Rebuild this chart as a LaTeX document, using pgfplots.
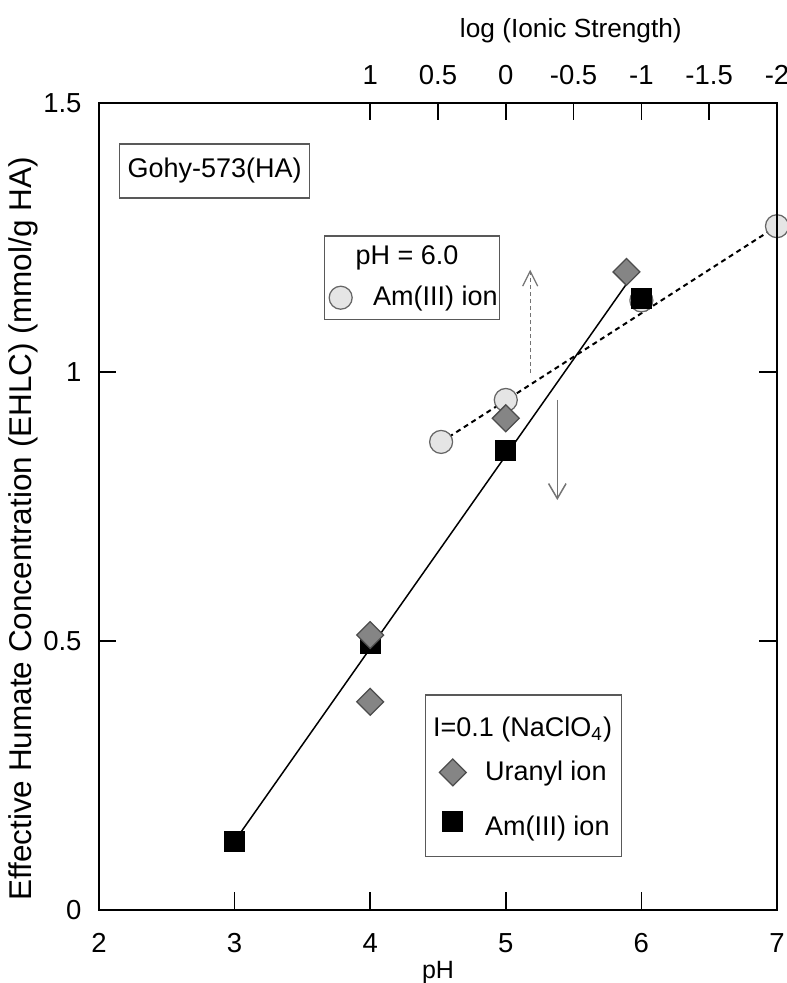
\documentclass[border=0pt]{standalone}
\usepackage{fontspec}
\setmainfont{Liberation Sans}
\usepackage{pgfplots}
\pgfplotsset{compat=1.18}
\usetikzlibrary{arrows.meta}

\definecolor{markgray}{gray}{0.52}
\definecolor{markedge}{gray}{0.30}
\definecolor{circfill}{gray}{0.90}
\definecolor{circedge}{gray}{0.40}
\definecolor{boxedge}{gray}{0.35}
\definecolor{arrowgray}{gray}{0.45}

\pgfplotsset{
  common/.style={
    scale only axis, width=271.2pt, height=322.8pt,
    ymin=0, ymax=1.5,
    tick align=inside, major tick length=7pt,
    every tick/.style={black, line width=0.6pt},
    tick label style={font=\fontsize{11}{13}\selectfont, inner sep=0pt},
    legend style={font=\fontsize{10.8}{13}\selectfont, draw=boxedge,
      line width=0.5pt, legend cell align=left,
      nodes={inner sep=0pt}},
  },
  narrow legend image/.style={
    legend image code/.code={\draw[mark repeat=2,mark phase=2,##1]
      plot coordinates {(0cm,0cm) (0.2cm,0cm) (0.4cm,0cm)};}},
}

\begin{document}
\begin{tikzpicture}
% Am(III) at pH 6.0 against log of the ionic strength (top scale)
\begin{axis}[common,
  x dir=reverse, xmin=-2, xmax=3,
  axis x line*=top, axis y line=none,
  axis line style={draw=none},
  xtick={1,0.5,0,-0.5,-1,-1.5,-2},
  xticklabels={1,0.5,0,-0.5,-1,-1.5,-2},
  xticklabel style={anchor=center, yshift=11.2pt},
  legend style={at={(axis description cs:0.332,0.836)}, anchor=north west,
    inner xsep=0.7pt, inner ysep=4pt, row sep=7pt, column sep=8.4pt},
]
\addplot[forget plot, black, line width=0.8pt, dash pattern=on 2pt off 1.6pt]
  coordinates {(0.477,0.870) (-2,1.271)};
\addlegendimage{empty legend}
\addlegendentry{\hspace*{-7pt}pH = 6.0}
\addplot[only marks, mark=*, mark size=4.6pt,
  mark options={fill=circfill, draw=circedge, line width=0.5pt},
  narrow legend image]
  coordinates {(0.477,0.870) (0,0.948) (-1,1.133) (-2,1.271)};
\addlegendentry{Am(III) ion}
\end{axis}

% humate concentration against pH at I = 0.1
\begin{axis}[common,
  xmin=2, xmax=7,
  axis line style={line width=0.8pt},
  xtick={2,3,4,5,6,7}, xticklabels={2,3,4,5,6,7},
  xtick pos=left,
  xticklabel style={anchor=center, yshift=-13.2pt},
  ytick={0,0.5,1,1.5}, yticklabels={0,0.5,1,1.5},
  yticklabel style={anchor=east, xshift=-6.8pt},
  xlabel={pH},
  xlabel style={at={(axis description cs:0.5,0)}, anchor=center,
    yshift=-24.8pt, font=\fontsize{10}{12}\selectfont},
  ylabel={Effective Humate Concentration (EHLC) (mmol/g HA)},
  ylabel style={at={(axis description cs:0,0.472)}, anchor=center,
    yshift=30.4pt, font=\fontsize{12.6}{15}\selectfont},
  title={log (Ionic Strength)},
  title style={at={(axis description cs:0.696,1)}, anchor=center,
    yshift=22.8pt, font=\fontsize{10.5}{12}\selectfont},
  legend style={at={(axis description cs:0.481,0.0657)}, anchor=south west,
    inner xsep=2.3pt, inner ysep=7pt, row sep=7.4pt, column sep=7.5pt},
  clip=false,
]
% fitted line
\addplot[forget plot, black, line width=0.6pt]
  coordinates {(3,0.128) (5.894,1.165)};
% arrows
\addplot[forget plot, arrowgray, line width=0.5pt, dash pattern=on 1.6pt off 1.2pt,
  -{Straight Barb[length=6pt,width=6pt]}]
  coordinates {(5.18,0.998) (5.18,1.19)};
\addplot[forget plot, arrowgray, line width=0.6pt,
  -{Straight Barb[length=6pt,width=7pt]}]
  coordinates {(5.38,0.948) (5.38,0.762)};
% Am(III) ion
\addplot[forget plot, only marks, mark=square*, mark size=4pt, mark options={fill=black, draw=black}]
  coordinates {(3,0.128) (4,0.496) (5,0.855) (6,1.136)};
% uranyl ion
\addplot[forget plot, only marks, mark=square*, mark size=3.8pt,
  mark options={rotate=45, fill=markgray, draw=markedge, line width=0.5pt}]
  coordinates {(4,0.511) (4,0.387) (5,0.914) (5.89,1.186)};

\addlegendimage{empty legend}
\addlegendentry{\hspace*{-20.8pt}\rule{0pt}{9.7pt}I=0.1 (NaClO\textsubscript{4})}
\addlegendimage{only marks, mark=square*, mark size=3.8pt,
  mark options={rotate=45, fill=markgray, draw=markedge, line width=0.5pt}}
\addlegendentry{Uranyl ion}
\addlegendimage{only marks, mark=square*, mark size=4pt, mark options={fill=black, draw=black}}
\addlegendentry{\rule{0pt}{12.3pt}Am(III) ion\hspace*{2.4pt}}

\node[draw=boxedge, line width=0.5pt, anchor=north west, minimum width=76pt,
  minimum height=21.6pt, inner sep=0pt, font=\fontsize{10.8}{13}\selectfont]
  at (axis description cs:0.0295,0.950) {Gohy-573(HA)};
\end{axis}
\pgfresetboundingbox
\path[use as bounding box] (-39.6pt,-29.2pt) rectangle (275.2pt,364pt);
\end{tikzpicture}
\end{document}
